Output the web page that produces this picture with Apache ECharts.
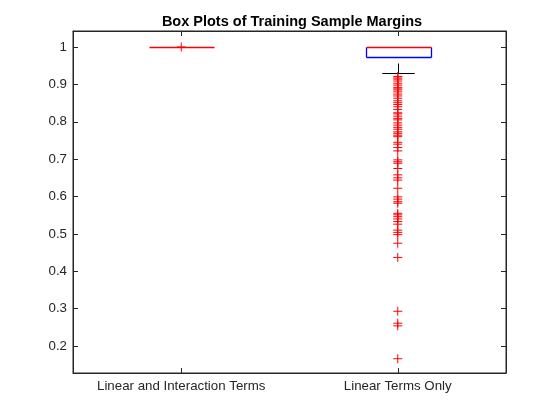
<!DOCTYPE html>
<html>
<head>
    <meta charset="utf-8">
    <title>Box Plots of Training Sample Margins</title>
    <script src="https://cdn.jsdelivr.net/npm/echarts@6/dist/echarts.min.js"></script>
    <style>
        html, body { margin: 0; padding: 0; background: #fff; }
        #main { width: 560px; height: 420px; }
    </style>
</head>
<body>
    <div id="main"></div>
    <script>
        // categories on the x axis
        var categories = ['Linear and Interaction Terms', 'Linear Terms Only'];
        // box stats per group: min, q1, median, q3, max
        var statsInteraction = [1, 1, 1, 1, 1];
        var statsLinear = [0.931, 0.973, 1, 1, 1];
        // outliers (red +)
        var outliersInteraction = [1];
        var outliersLinear = [
            0.921, 0.917, 0.914, 0.909, 0.903, 0.898, 0.892, 0.888, 0.885, 0.880,
            0.874, 0.869, 0.863, 0.856, 0.851, 0.846, 0.840, 0.833, 0.824, 0.821,
            0.815, 0.809, 0.805, 0.797, 0.791, 0.785, 0.780, 0.773, 0.769, 0.764,
            0.760, 0.745, 0.740, 0.731, 0.722, 0.698, 0.693, 0.689, 0.675, 0.658,
            0.650, 0.644, 0.622, 0.599, 0.593, 0.586, 0.582, 0.555, 0.551, 0.546,
            0.540, 0.533, 0.526, 0.510, 0.504, 0.498, 0.475, 0.437, 0.293, 0.261,
            0.254, 0.166
        ];
        // y tick labels
        var yTicks = [0.2, 0.3, 0.4, 0.5, 0.6, 0.7, 0.8, 0.9, 1];
        var yMin = 0.1278, yMax = 1.0428;

        var axisColor = '#262626';
        var font = 'Liberation Sans, Arial, sans-serif';

        var boxData = [[0].concat(statsInteraction), [1].concat(statsLinear)];
        var outlierData = [];
        outliersInteraction.forEach(function (v) { outlierData.push([0, v]); });
        outliersLinear.forEach(function (v) { outlierData.push([1, v]); });

        // snap to pixel centre so overlapping lines stay crisp
        function px(v) { return Math.round(v) + 0.5; }

        function renderBox(params, api) {
            var i = api.value(0);
            var band = api.size([1, 0])[0];
            var boxW = band * 0.3;
            var capW = band * 0.15;
            var x = px(api.coord([i, 0])[0]);
            function y(v) { return px(api.coord([i, v])[1]); }
            var mn = api.value(1), q1 = api.value(2), med = api.value(3),
                q3 = api.value(4), mx = api.value(5);
            var left = Math.round(x - boxW / 2) + 0.5, right = Math.round(x + boxW / 2) + 0.5;
            var top = y(q3), bottom = y(q1), ym = y(med);
            var kids = [];
            function seg(ax, ay, bx, by, color, width, dash, z2) {
                kids.push({
                    type: 'line', z2: z2,
                    shape: { x1: ax, y1: ay, x2: bx, y2: by },
                    style: { stroke: color, lineWidth: width, lineDash: dash || null, fill: null }
                });
            }
            // whiskers and caps
            seg(x, y(mn), x, bottom, '#000000', 1, [10, 6], 1);
            seg(x, y(mx), x, top, '#000000', 1, [10, 6], 1);
            seg(x - capW / 2, y(mn), x + capW / 2, y(mn), '#000000', 1, null, 2);
            seg(x - capW / 2, y(mx), x + capW / 2, y(mx), '#000000', 1, null, 2);
            // box edges, skipping any edge hidden under the median
            seg(left, top, left, bottom, '#0000ff', 1.3, null, 3);
            seg(right, top, right, bottom, '#0000ff', 1.3, null, 3);
            if (top !== ym) seg(left, top, right, top, '#0000ff', 1.3, null, 3);
            if (bottom !== ym) seg(left, bottom, right, bottom, '#0000ff', 1.3, null, 3);
            // median
            seg(left, ym, right, ym, '#ff0000', 1.6, null, 4);
            return { type: 'group', children: kids };
        }

        var tickStyle = { show: true, inside: true, length: 5, lineStyle: { color: axisColor, width: 1 } };

        var myChart = echarts.init(document.getElementById('main'));
        var option = {
            animation: false,
            backgroundColor: '#fff',
            title: {
                text: 'Box Plots of Training Sample Margins',
                left: 287,
                textAlign: 'center',
                top: 9,
                textStyle: { fontFamily: font, fontSize: 14.5, fontWeight: 'bold', color: '#000' }
            },
            grid: {
                left: 73, right: 54, top: 31, bottom: 47,
                show: true, borderColor: axisColor, borderWidth: 1, backgroundColor: '#fff'
            },
            xAxis: [{
                type: 'category',
                data: categories,
                position: 'bottom',
                axisLine: { lineStyle: { color: axisColor } },
                axisTick: Object.assign({ alignWithLabel: true }, tickStyle),
                axisLabel: { interval: 0, color: axisColor, fontFamily: font, fontSize: 13.3, margin: 7 },
                splitLine: { show: false }
            }, {
                type: 'category',
                data: categories,
                position: 'top',
                axisLine: { lineStyle: { color: axisColor } },
                axisTick: Object.assign({ alignWithLabel: true }, tickStyle),
                axisLabel: { show: false },
                splitLine: { show: false }
            }],
            yAxis: [{
                type: 'value',
                min: yMin,
                max: yMax,
                position: 'left',
                axisLine: { show: true, lineStyle: { color: axisColor } },
                axisTick: Object.assign({ customValues: yTicks }, tickStyle),
                axisLabel: { color: axisColor, fontFamily: font, fontSize: 13.3, margin: 6, customValues: yTicks },
                splitLine: { show: false }
            }, {
                type: 'value',
                min: yMin,
                max: yMax,
                position: 'right',
                axisLine: { show: true, lineStyle: { color: axisColor } },
                axisTick: Object.assign({ customValues: yTicks }, tickStyle),
                axisLabel: { show: false },
                splitLine: { show: false }
            }],
            series: [{
                type: 'custom',
                name: 'boxes',
                xAxisIndex: 0,
                yAxisIndex: 0,
                renderItem: renderBox,
                encode: { x: 0, y: [1, 2, 3, 4, 5] },
                data: boxData,
                z: 2
            }, {
                type: 'scatter',
                name: 'outliers',
                xAxisIndex: 0,
                yAxisIndex: 0,
                symbol: 'path://M0,5L10,5M5,0L5,10',
                symbolSize: 9,
                itemStyle: { color: 'none', borderColor: '#ff0000', borderWidth: 1, opacity: 1 },
                emphasis: { disabled: true },
                data: outlierData,
                z: 3
            }]
        };
        myChart.setOption(option);
    </script>
</body>
</html>
